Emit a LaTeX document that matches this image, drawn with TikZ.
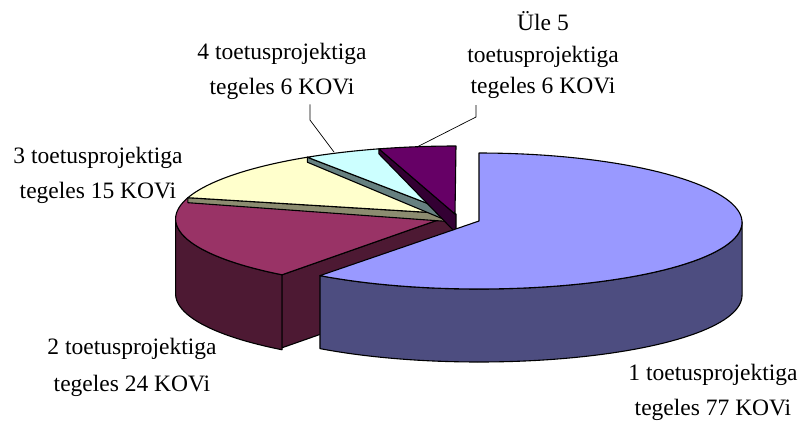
\documentclass[tikz,border=0pt]{standalone}
\usepackage{fontspec}
\setmainfont{Liberation Serif}
\definecolor{mtop}{HTML}{993366}
\definecolor{mwall}{HTML}{4D1933}
\definecolor{btop}{HTML}{9999FF}
\definecolor{bwall}{HTML}{4D4D80}
\definecolor{ytop}{HTML}{FFFFCC}
\definecolor{ctop}{HTML}{CCFFFF}
\definecolor{ptop}{HTML}{660066}
\definecolor{ystrip}{HTML}{8C8C70}
\definecolor{cstrip}{HTML}{668080}
\definecolor{pstrip}{HTML}{330033}
\begin{document}
\begin{tikzpicture}[x=1pt,y=-1pt,
  declare function={
    px(\p)=456+(280-15*cos(\p))*sin(\p);
    py(\p)=215-(72-3*cos(\p))*cos(\p);
    bx(\p)=479+(263-5*cos(\p))*sin(\p);
    by(\p)=221-68*cos(\p);
  },
  edge/.style={draw=black,line width=1.1pt,line join=round},
  lead/.style={draw=black,line width=0.7pt},
  lbl/.style={align=center,inner sep=0pt}]
\useasboundingbox (0,0) rectangle (801,421);

\coordinate (A) at (455,214);
\coordinate (Ab) at (455,287);
\coordinate (B) at (479,221);

% maroon outer wall
\filldraw[fill=mwall,edge]
  plot[domain=216.56:266.94,samples=40,variable=\t] ({px(\t)},{py(\t)})
  -- plot[domain=266.94:216.56,samples=40,variable=\t] ({px(\t)},{py(\t)+75}) -- cycle;
% maroon radial face
\coordinate (M1) at ({px(216.56)},{py(216.56)});
\coordinate (M1b) at ({px(216.56)},{py(216.56)+73});
\filldraw[fill=mwall,edge] (A) -- (M1) -- (M1b) -- (Ab) -- cycle;
% maroon top
\filldraw[fill=mtop,edge] (A)
  -- plot[domain=216.56:284.06,samples=50,variable=\t] ({px(\t)},{py(\t)}) -- cycle;

% yellow strip and top
\coordinate (Y1) at ({px(284.06)},{py(284.06)});
\filldraw[fill=ystrip,edge] (A) -- (Y1) -- ++(0,5) -- (455,222) -- cycle;
\filldraw[fill=ytop,edge] (A)
  -- plot[domain=284.06:326.25,samples=30,variable=\t] ({px(\t)},{py(\t)}) -- cycle;

% cyan strip and top
\coordinate (C1) at ({px(326.25)},{py(326.25)});
\filldraw[fill=cstrip,edge] (A) -- (C1) -- ++(0,5) -- (455,224) -- cycle;
\filldraw[fill=ctop,edge] (A)
  -- plot[domain=326.25:343.13,samples=15,variable=\t] ({px(\t)},{py(\t)}) -- cycle;

% purple strip and top
\coordinate (P1) at ({px(343.13)},{py(343.13)});
\filldraw[fill=pstrip,edge] (A) -- (P1) -- ++(0,5) -- (455,232) -- (456,232) -- (456,214) -- cycle;
\filldraw[fill=ptop,edge] (A)
  -- plot[domain=343.13:360,samples=15,variable=\t] ({px(\t)},{py(\t)}) -- cycle;

% blue exploded slice
\filldraw[fill=bwall,edge]
  plot[domain=91:216.56,samples=60,variable=\t] ({bx(\t)},{by(\t)})
  -- plot[domain=216.56:91,samples=60,variable=\t] ({bx(\t)},{by(\t)+73}) -- cycle;
\filldraw[fill=btop,edge] (B)
  -- plot[domain=0:216.56,samples=90,variable=\t] ({bx(\t)},{by(\t)}) -- cycle;

% labels
\node[lbl,font=\fontsize{23.5}{31.5}\selectfont] (L5) at (543,55.4)
  {Üle 5\\toetusprojektiga\\tegeles 6 KOVi};
\node[lbl,font=\fontsize{23.5}{35}\selectfont] (L4) at (282,71)
  {4 toetusprojektiga\\tegeles 6 KOVi};
\node[lbl,font=\fontsize{23.5}{35}\selectfont] (L3) at (98,175)
  {3 toetusprojektiga\\tegeles 15 KOVi};
\node[lbl,font=\fontsize{23.5}{37}\selectfont] (L2) at (132,367)
  {2 toetusprojektiga\\tegeles 24 KOVi};
\node[lbl,font=\fontsize{23.5}{35}\selectfont] (L1) at (713,392)
  {1 toetusprojektiga\\tegeles 77 KOVi};

% leader lines
\coordinate (l4b) at (310,120);
\coordinate (l4c) at (334,152);
\draw[lead] ([yshift=-5pt]L4.south -| l4b) -- (l4b) -- (l4c);
\coordinate (l5b) at (476,117);
\coordinate (l5c) at (417,147);
\draw[lead] ([yshift=-6pt]L5.south -| l5b) -- (l5b) -- (l5c);
\end{tikzpicture}
\end{document}
